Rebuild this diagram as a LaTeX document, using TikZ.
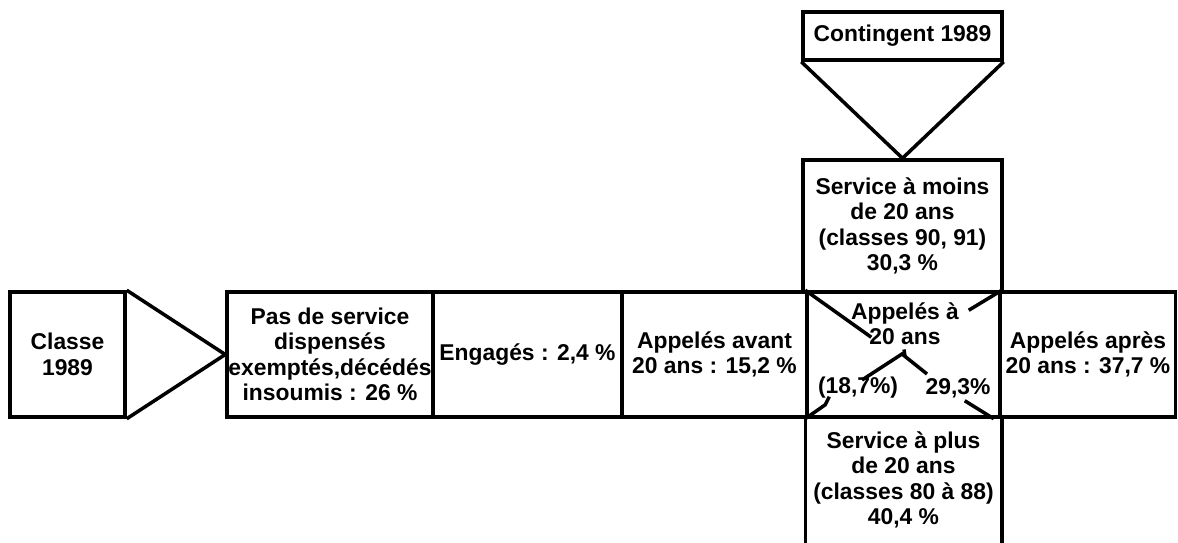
\documentclass[tikz,border=0pt]{standalone}
\usepackage{fontspec}
\setmainfont{Liberation Sans}
\usetikzlibrary{calc}
\begin{document}
\begin{tikzpicture}[x=0.02cm, y=-0.02cm,
    thickline/.style={line width=2pt},
    cell/.style={draw, thickline, align=center, inner sep=0pt, minimum height=2.5cm,
      font=\bfseries\fontsize{13}{14.5}\selectfont},
    txt/.style={inner sep=0pt, align=center, font=\bfseries\fontsize{13}{14.5}\selectfont}]
  \useasboundingbox (0,0) rectangle (1178,543);
  % main row
  \node[cell, minimum width=2.3cm] (classe) at (67.5,354.5) {Classe\\1989};
  \node[cell, minimum width=4.12cm] (pas) at (330,354.5) {Pas de service\\dispensés\\exemptés,décédés\\insoumis : 26 \%};
  \node[cell, minimum width=3.78cm] (engages) at (527.5,354.5) {Engagés : 2,4 \%};
  \node[cell, minimum width=3.7cm] (avant) at (714.5,354.5) {Appelés avant\\20 ans : 15,2 \%};
  \node[cell, minimum width=3.86cm] (vingt) at (903.5,354.5) {};
  \node[cell, minimum width=3.5cm] (apres) at (1088,354.5) {Appelés après\\20 ans : 37,7 \%};
  % column
  \node[cell, minimum width=3.98cm, minimum height=0.96cm] (contingent) at (902.5,36) {Contingent 1989};
  \node[cell, minimum width=3.98cm, minimum height=2.64cm] (moins) at (902.5,226) {Service à moins\\de 20 ans\\(classes 90, 91)\\30,3 \%};
  \node[cell, draw=none, minimum width=3.86cm, minimum height=2.52cm] (plus) at (903.5,480) {Service à plus\\de 20 ans\\(classes 80 à 88)\\40,4 \%};
  \draw[thickline] (plus.north west) -- (plus.south west);
  \draw[thickline] (plus.north east) -- (plus.south east);
  % triangles
  \draw[thickline] (classe.north east) -- (pas.west) -- (classe.south east);
  \draw[thickline] (contingent.south west) -- (moins.north) -- (contingent.south east);
  % inside the 20 ans box
  \node[txt] (atvingt) at (905,324) {Appelés à\\20 ans};
  \node[txt] (moinspct) at (858,388) {(18,7\%)};
  \node[txt] (pluspct) at (958,388) {29,3\%};
  \draw[thickline] (vingt.north west) -- ++(66,47);
  \draw[thickline] (vingt.north east) -- ++(-33,20);
  \draw[thickline] (vingt.south west) -- ++(20,-14) -- ++(4,-8);
  \draw[thickline] ($(vingt.south east)+(-8,0)$) -- ++(-29,-18);
  \draw[thickline] ($(vingt.center)+(-41.5,25.5)$) -- ($(vingt.center)+(-1.5,-0.5)$) -- ($(vingt.center)+(23.5,19.5)$);
  \draw[thickline] ($(vingt.center)+(0.5,-5)$) -- ($(vingt.center)+(1.5,2)$);
\end{tikzpicture}
\end{document}
